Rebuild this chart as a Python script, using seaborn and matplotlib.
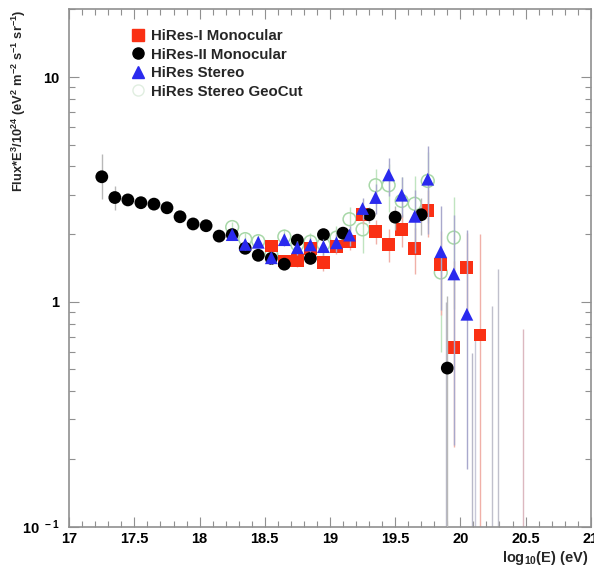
import numpy as np
import pandas as pd
import seaborn as sns
import matplotlib
matplotlib.use('Agg')
import matplotlib.pyplot as plt
from matplotlib.ticker import FixedLocator, FixedFormatter, MultipleLocator, NullFormatter

# --- data (log10 E, flux*E^3/1e24) ---
hr2_x = [17.25, 17.35, 17.45, 17.55, 17.65, 17.75, 17.85, 17.95, 18.05, 18.15, 18.25,
         18.35, 18.45, 18.55, 18.65, 18.75, 18.85, 18.95, 19.1, 19.3, 19.5, 19.7, 19.9]
hr2_y = [3.60, 2.91, 2.84, 2.76, 2.72, 2.62, 2.39, 2.22, 2.18, 1.96, 1.99,
         1.73, 1.61, 1.56, 1.47, 1.88, 1.56, 1.99, 2.02, 2.44, 2.38, 2.44, 0.507]
hr2_lo = [0.73, 0.35, 0.12, 0.08, 0.07, 0.07, 0.06, 0.06, 0.06, 0.05, 0.05,
          0.05, 0.05, 0.06, 0.06, 0.08, 0.09, 0.11, 0.12, 0.2, 0.3, 0.45, 0.506]
hr2_hi = [0.95, 0.37, 0.12, 0.08, 0.07, 0.07, 0.06, 0.06, 0.06, 0.05, 0.05,
          0.05, 0.05, 0.06, 0.06, 0.08, 0.09, 0.11, 0.12, 0.2, 0.3, 0.45, 0.55]

hr1_x = [18.55, 18.65, 18.75, 18.85, 18.95, 19.05, 19.15, 19.25, 19.35, 19.45,
         19.55, 19.65, 19.75, 19.85, 19.95, 20.05, 20.15]
hr1_y = [1.77, 1.52, 1.53, 1.72, 1.49, 1.76, 1.85, 2.44, 2.05, 1.80,
         2.10, 1.73, 2.54, 1.47, 0.626, 1.42, 0.711]
hr1_lo = [0.1, 0.1, 0.1, 0.12, 0.12, 0.13, 0.15, 0.22, 0.25, 0.3,
          0.35, 0.4, 0.6, 0.6, 0.4, 0.5, 0.71]
hr1_hi = [0.1, 0.1, 0.1, 0.12, 0.12, 0.13, 0.15, 0.22, 0.25, 0.3,
          0.35, 0.4, 0.6, 0.6, 0.9, 0.6, 1.3]

st_x = [18.25, 18.35, 18.45, 18.55, 18.65, 18.75, 18.85, 18.95, 19.05, 19.15,
        19.25, 19.35, 19.45, 19.55, 19.65, 19.75, 19.85, 19.95, 20.05]
st_y = [1.99, 1.80, 1.84, 1.57, 1.89, 1.74, 1.79, 1.76, 1.83, 1.98,
        2.60, 2.91, 3.67, 2.98, 2.40, 3.51, 1.67, 1.33, 0.88]
st_lo = [0.1, 0.1, 0.1, 0.1, 0.12, 0.12, 0.13, 0.15, 0.17, 0.2,
         0.3, 0.45, 0.7, 0.6, 0.75, 1.5, 0.75, 1.1, 0.7]
st_hi = [0.1, 0.1, 0.1, 0.1, 0.12, 0.12, 0.13, 0.15, 0.17, 0.2,
         0.3, 0.45, 0.7, 0.6, 0.75, 1.4, 1.0, 1.1, 1.2]

gc_x = [18.25, 18.35, 18.45, 18.55, 18.65, 18.75, 18.85, 18.95, 19.05, 19.15,
        19.25, 19.35, 19.45, 19.55, 19.65, 19.75, 19.85, 19.95]
gc_y = [2.15, 1.90, 1.86, 1.62, 1.95, 1.80, 1.85, 1.80, 1.93, 2.33,
        2.10, 3.30, 3.30, 2.81, 2.73, 3.45, 1.35, 1.93]
gc_lo = [0.12, 0.12, 0.12, 0.12, 0.15, 0.15, 0.17, 0.2, 0.25, 0.3,
         0.45, 0.6, 0.8, 0.8, 0.9, 1.2, 0.75, 1.0]
gc_hi = [0.12, 0.12, 0.12, 0.12, 0.15, 0.15, 0.17, 0.2, 0.25, 0.3,
         0.45, 0.6, 0.8, 0.8, 0.9, 1.2, 0.15, 1.0]

# empty bins: upper limits drawn as plain lines
lim_x = [19.89, 20.09, 20.11, 20.24, 20.29, 20.48]
lim_top = [1.0, 0.59, 0.75, 0.96, 1.40, 0.76]
lim_col = ['#b8b8c8', '#b8b8c8', '#c8c8d8', '#c0c0cc', '#c0c0cc', '#dcb8c0']

sns.set_style('ticks')
plt.rcParams['font.family'] = ['Liberation Sans', 'DejaVu Sans']
plt.rcParams['font.weight'] = 'bold'
plt.rcParams['mathtext.fontset'] = 'custom'
plt.rcParams['mathtext.rm'] = 'Liberation Sans:bold'
plt.rcParams['mathtext.bf'] = 'Liberation Sans:bold'
plt.rcParams['mathtext.default'] = 'bf'

fig = plt.figure(figsize=(5.94, 5.67), dpi=100)
ax = fig.add_axes([0.1165, 0.0714, 0.878, 0.912])
ax.set_yscale('log')

ax.vlines(lim_x, 0.1, lim_top, colors=lim_col, lw=1.0, zorder=1)

series = [
    ('HiRes-I Monocular', hr1_x, hr1_y, hr1_lo, hr1_hi, '#fa3014', 's', '#f0b0a8', 3),
    ('HiRes-II Monocular', hr2_x, hr2_y, hr2_lo, hr2_hi, 'black', 'o', '#b8b8b8', 4),
    ('HiRes Stereo', st_x, st_y, st_lo, st_hi, '#2a2aee', '^', '#a8a8cc', 5),
    ('HiRes Stereo GeoCut', gc_x, gc_y, gc_lo, gc_hi, '#a8d8a8', 'o', '#c0e4c0', 2),
]

handles = []
for name, xs, ys, lo, hi, col, mk, ecol, z in series:
    ax.errorbar(xs, ys, yerr=[lo, hi], fmt='none', ecolor=ecol, elinewidth=1.0,
                capsize=0, zorder=z - 0.5)
    df = pd.DataFrame({'logE': xs, 'flux': ys})
    if name.endswith('GeoCut'):
        sns.scatterplot(data=df, x='logE', y='flux', ax=ax, marker='o', s=85,
                        facecolor='none', edgecolor=col, linewidth=1.1, zorder=z)
        h = plt.Line2D([], [], ls='none', marker='o', ms=8, mfc='none',
                       mec='#e0eee0', mew=1.0)
    else:
        sns.scatterplot(data=df, x='logE', y='flux', ax=ax, marker=mk, s=85,
                        color=col, edgecolor='none', zorder=z)
        h = plt.Line2D([], [], ls='none', marker=mk, ms=8, mfc=col, mec=col)
    handles.append((h, name))

ax.set_xlim(17, 21)
ax.set_ylim(0.1, 20)

ax.xaxis.set_major_locator(FixedLocator([17, 17.5, 18, 18.5, 19, 19.5, 20, 20.5, 21]))
ax.xaxis.set_major_formatter(FixedFormatter(['17', '17.5', '18', '18.5', '19', '19.5',
                                             '20', '20.5', '21']))
ax.xaxis.set_minor_locator(MultipleLocator(0.1))
ax.yaxis.set_major_locator(FixedLocator([0.1, 1, 10]))
ax.yaxis.set_major_formatter(FixedFormatter([r'10$^{\ -1}$', '1', '10']))
ax.yaxis.set_minor_locator(FixedLocator([k * 10.0 ** e for e in (-1, 0, 1) for k in range(2, 10)]))
ax.yaxis.set_minor_formatter(NullFormatter())

ax.tick_params(which='both', direction='in', top=True, right=True, colors='#909090',
               labelcolor='black', labelsize=10.5, width=0.8)
ax.tick_params(which='major', length=7)
ax.tick_params(axis='x', which='major', pad=4)
ax.tick_params(axis='y', which='major', pad=7)
ax.tick_params(which='minor', length=4)
for sp in ax.spines.values():
    sp.set_color('#909090')
    sp.set_linewidth(1.2)

ax.set_xlabel(r'log$_{10}$(E) (eV)', loc='right', fontsize=10.5, fontweight='bold')
ax.xaxis.set_label_coords(0.995, -0.043)
ax.set_ylabel(r'Flux*E$^{3}$/10$^{24}$ (eV$^{2}$ m$^{-2}$ s$^{-1}$ sr$^{-1}$)',
              loc='top', fontsize=9.3, fontweight='bold')
ax.yaxis.set_label_coords(-0.0785, 1.0)

ax.legend([h for h, _ in handles], [n for _, n in handles], loc='upper left',
          bbox_to_anchor=(0.088, 0.988), frameon=False, fontsize=10.8,
          handletextpad=0.3, labelspacing=0.3, handlelength=1.2)

fig.savefig('out.png', dpi=100)
